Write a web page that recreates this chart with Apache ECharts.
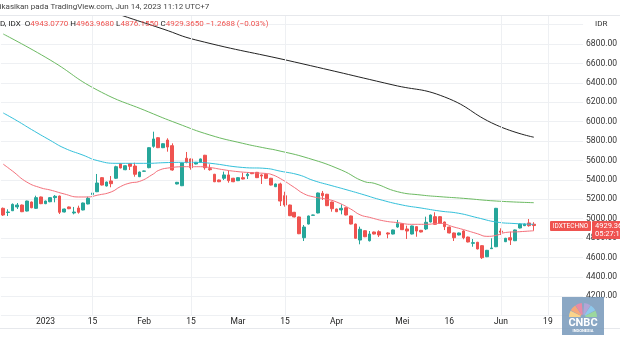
<!DOCTYPE html>
<html><head><meta charset="utf-8">
<script src="https://cdn.jsdelivr.net/npm/echarts@6/dist/echarts.min.js"></script>
<style>html,body{margin:0;padding:0;background:#fff;overflow:hidden}#c{width:620px;height:349px}</style>
</head><body><div id="c"></div>
<script>
// ---- DATA ----
const barCount = 124; // trading-day slots on the time scale (incl. empty future slots)
const tickIndex = [9, 19, 30, 40, 50, 60, 71, 85, 95, 106, 116];
const tickText  = ['2023', '15', 'Feb', '15', 'Mar', '15', 'Apr', 'Mei', '16', 'Jun', '19'];
const vGridIndex = [19, 40, 60, 106, 116];
// candles: [open, close, low, high]
const candles = [
[5107,5038,5028,5115],[5064,5069,5028,5097],[5082,5148,5079,5157],[5121,5141,5100,5162],[5141,5072,5068,5146],
[5079,5182,5075,5186],[5172,5113,5108,5177],[5107,5217,5100,5237],[5224,5155,5150,5228],[5155,5182,5150,5186],
[5175,5217,5170,5221],[5217,5231,5169,5244],[5234,5066,5048,5238],[5069,5100,5065,5104],[5121,5103,5099,5125],
[5059,5069,5045,5121],[5110,5066,5052,5134],[5090,5162,5086,5166],[5152,5210,5148,5227],[5249,5265,5217,5313],
[5278,5368,5274,5461],[5423,5347,5343,5428],[5337,5378,5333,5382],[5389,5361,5324,5440],[5417,5536,5409,5546],
[5567,5523,5519,5571],[5505,5546,5500,5550],[5567,5540,5502,5572],[5543,5458,5433,5577],[5433,5481,5429,5485],
[5489,5492,5486,5495],[5526,5732,5520,5736],[5746,5822,5732,5897],[5835,5732,5728,5840],[5732,5773,5728,5777],
[5811,5739,5691,5829],[5753,5502,5495,5777],[5358,5375,5354,5379],[5340,5574,5336,5578],[5623,5581,5571,5688],
[5616,5526,5505,5620],[5564,5581,5560,5585],[5581,5616,5577,5620],[5654,5526,5505,5658],[5516,5505,5495,5561],
[5458,5381,5377,5462],[5399,5381,5377,5403],[5417,5451,5399,5485],[5451,5392,5371,5492],[5417,5381,5377,5421],
[5392,5423,5388,5427],[5423,5409,5405,5474],[5443,5458,5409,5478],[5474,5464,5460,5478],[5478,5423,5419,5482],
[5451,5440,5358,5458],[5458,5417,5409,5468],[5417,5347,5343,5421],[5330,5358,5326,5362],[5358,5182,5131,5371],
[5237,5141,5124,5278],[5141,5031,5027,5145],[5066,5018,5014,5070],[5018,4845,4841,5022],[4804,4914,4770,4935],
[4945,5028,4941,5032],[5035,5038,5032,5041],[5059,5265,5055,5269],[5262,5237,5193,5286],[5252,5134,5130,5256],
[5172,5103,5072,5176],[5100,5072,5068,5104],[5090,5107,5045,5148],[5113,5038,5034,5117],[5028,4945,4941,5032],
[4945,4798,4794,4949],[4780,4891,4736,4918],[4876,4814,4810,4880],[4773,4842,4765,4873],[4863,4842,4838,4867],
[4866,4832,4811,4880],'-',[4853,4842,4798,4860],[4842,4884,4838,4888],[4914,4948,4907,4987],
[4948,4887,4883,4952],[4894,4873,4791,4928],[4842,4925,4838,4929],[4918,4873,4814,4922],[4880,4863,4859,4884],
[4894,4963,4883,5021],[4966,5038,4962,5042],[5021,4942,4938,5066],[5021,4953,4949,5025],[4966,4918,4883,4970],
[4914,4853,4849,4918],[4853,4804,4770,4857],[4832,4853,4828,4857],[4873,4804,4788,4880],[4811,4760,4756,4815],
[4746,4753,4711,4791],[4757,4688,4684,4761],[4722,4598,4585,4726],[4608,4674,4604,4678],[4691,4698,4688,4798],
[4711,5107,4707,5111],[4873,4860,4832,4901],[4763,4798,4759,4802],[4804,4780,4729,4866],[4773,4884,4769,4888],
[4904,4945,4900,4949],[4928,4945,4924,4949],[4956,4928,4918,4997],[4943.08,4929.37,4876.16,4963.97]
];
// moving averages: [bar index, value]
const maRed = [[0,5562],[2,5490],[5,5378],[8,5318],[10,5296],[13,5255],[16,5224],[18,5224],[20,5242],[23,5276],
[25,5332],[27,5368],[29,5384],[32,5462],[33,5496],[35,5522],[39,5536],[42,5536],[44,5528],[47,5504],[50,5485],
[53,5474],[56,5466],[57,5458],[59,5414],[62,5322],[64,5258],[66,5226],[69,5200],[71,5172],[74,5100],[76,5040],
[78,5014],[81,4978],[84,4959],[87,4942],[90,4942],[93,4952],[96,4914],[98,4888],[101,4845],[103,4818],[105,4828],
[107,4858],[110,4866],[113,4876]];
const maCyan = [[0,6090],[3,6008],[6,5920],[10,5808],[13,5728],[17,5655],[20,5600],[24,5571],[31,5571],[34,5577],
[38,5581],[41,5581],[44,5572],[51,5528],[56,5518],[59,5490],[63,5451],[66,5395],[70,5340],[73,5300],[77,5244],
[80,5200],[85,5141],[89,5110],[93,5079],[97,5056],[101,5010],[105,4966],[109,4950],[113,4942]];
const maGreen = [[0,6904],[10,6636],[20,6327],[31,6100],[37,5984],[44,5863],[51,5777],[56,5726],[58,5708],[65,5623],
[72,5502],[77,5381],[79,5365],[84,5278],[89,5244],[93,5227],[98,5210],[105,5182],[113,5165]];
const maBlack = [[20,7185],[25,7100],[34,6956],[41,6843],[62,6616],[83,6379],[94,6255],[105,5966],[113,5840]];
const priceMin = 4000, priceMax = 7100, priceStep = 200;

// ---- CHART ----
const UP = '#26A69A', DOWN = '#EF5350';
const FONT = 'Roboto, "Liberation Sans", sans-serif';
const cats = Array.from({length: barCount}, (_, i) => String(i));
const chart = echarts.init(document.getElementById('c'));
function line(data, color) {
  return {type: 'line', data: data, smooth: true, showSymbol: false, symbol: 'none', silent: true,
    lineStyle: {color: color, width: 1}, z: 3};
}
chart.setOption({
  animation: false,
  backgroundColor: '#fff',
  grid: {left: 0.9, width: 589.9, top: 15, height: 300.7},
  xAxis: {type: 'category', data: cats, boundaryGap: true,
    axisLine: {show: false}, axisTick: {show: false}, splitLine: {show: false},
    axisLabel: {interval: (i) => tickIndex.indexOf(i) >= 0,
      formatter: (v, i) => { const k = tickIndex.indexOf(Number(v)); return k >= 0 ? tickText[k] : ''; },
      fontSize: 8.5, color: '#222', margin: 2, fontFamily: FONT}},
  yAxis: {type: 'value', position: 'right', min: priceMin, max: priceMax, interval: priceStep,
    axisLine: {show: false}, axisTick: {show: false},
    splitLine: {lineStyle: {color: '#eef0f3', width: 1}},
    axisLabel: {margin: 3, fontSize: 8.5, color: '#333', fontFamily: FONT, align: 'left',
      formatter: (v) => (v >= 7000 || v <= 4000) ? '' : v.toFixed(2)}},
  series: [
    {type: 'candlestick', data: candles, barWidth: 3.2, silent: true,
      itemStyle: {color: UP, color0: DOWN, borderColor: UP, borderColor0: DOWN, borderWidth: 1},
      markLine: {silent: true, symbol: 'none', label: {show: false},
        lineStyle: {color: '#eef0f3', type: 'solid', width: 1},
        data: vGridIndex.map(i => ({xAxis: i}))}, z: 2},
    line(maRed, '#F4707B'),
    line(maCyan, '#33C0DA'),
    line(maGreen, '#6CBA62'),
    line(maBlack, '#222')
  ],
  graphic: [
    {type: 'rect', shape: {x: 0, y: 0, width: 620, height: 15}, style: {fill: '#fff'}, z: 50},
    {type: 'line', shape: {x1: 0, y1: 15.5, x2: 620, y2: 15.5}, style: {stroke: '#e6e8ec', lineWidth: 1}, z: 51},
    {type: 'line', shape: {x1: 0, y1: 328.5, x2: 620, y2: 328.5}, style: {stroke: '#e6e8ec', lineWidth: 1}, z: 51},
    {type: 'text', x: -23, y: 7, style: {text: 'Dipublikasikan pada TradingView.com, Jun 14, 2023 11:12 UTC+7',
      fill: '#444', font: '8px ' + FONT, textVerticalAlign: 'middle'}, z: 52},
    {type: 'text', x: 0, y: 24, z: 52, style: {
      text: '{k|D, IDX  O}{v|4943.0770} {k|H}{v|4963.9680} {k|L}{v|4876.1550} {k|C}{v|4929.3650} {v|−1.2688 (−0.03%)}',
      font: '8px ' + FONT, textVerticalAlign: 'middle',
      rich: {k: {fill: '#222', font: '8px ' + FONT}, v: {fill: DOWN, font: '8px ' + FONT}}}},
    {type: 'text', x: 595, y: 24, style: {text: 'IDR', fill: '#333', font: '8px ' + FONT, textVerticalAlign: 'middle'}, z: 52},
    {type: 'rect', shape: {x: 550, y: 221, width: 41, height: 10, r: 1}, style: {fill: DOWN}, z: 52},
    {type: 'text', x: 570.5, y: 226, style: {text: 'IDXTECHNO', fill: '#fff', font: '6.5px ' + FONT,
      textAlign: 'center', textVerticalAlign: 'middle'}, z: 53},
    {type: 'rect', shape: {x: 592, y: 221, width: 30, height: 18, r: 1}, style: {fill: DOWN}, z: 52},
    {type: 'text', x: 595, y: 226, style: {text: '4929.36', fill: '#fff', font: '7.5px ' + FONT, textVerticalAlign: 'middle'}, z: 53},
    {type: 'text', x: 595, y: 234, style: {text: '05:27:16', fill: '#fff', font: '7.5px ' + FONT, textVerticalAlign: 'middle'}, z: 53},
    // CNBC Indonesia watermark
    {type: 'rect', shape: {x: 562, y: 297, width: 42, height: 38}, style: {fill: 'rgba(118,152,186,0.85)'}, z: 60},
    {type: 'group', z: 61, children: [
      ['#FBD38A', 180, 207], ['#F7A77A', 209, 236], ['#E98AA6', 238, 265],
      ['#B3A5D6', 275, 302], ['#8EC8EC', 304, 331], ['#9BD79E', 333, 360]
    ].map(f => ({type: 'sector', z: 61,
      shape: {cx: 583, cy: 317, r0: 2.5, r: 14, startAngle: f[1] * Math.PI / 180, endAngle: f[2] * Math.PI / 180},
      style: {fill: f[0]}}))},
    {type: 'text', x: 583, y: 323, style: {text: 'CNBC', fill: '#fff', font: 'bold 11px ' + FONT,
      textAlign: 'center', textVerticalAlign: 'middle'}, z: 62},
    {type: 'text', x: 583, y: 330.5, style: {text: 'INDONESIA', fill: '#fff', font: 'bold 4px ' + FONT,
      textAlign: 'center', textVerticalAlign: 'middle'}, z: 62}
  ]
});
</script></body></html>
